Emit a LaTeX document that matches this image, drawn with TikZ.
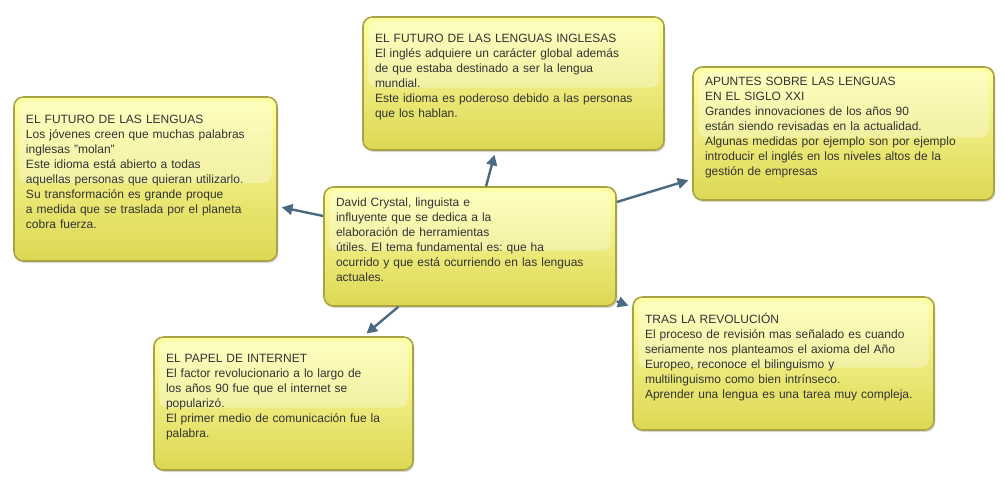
\documentclass[tikz,border=0pt]{standalone}
\usepackage{fontspec}
\setmainfont{Liberation Sans}
\usepackage{xcolor}
\usepackage{tikz}
\usetikzlibrary{arrows.meta,shadows}
\frenchspacing
\definecolor{mapBorder}{HTML}{A8A443}
\definecolor{mapTop}{HTML}{FFFFA6}
\definecolor{mapMid}{HTML}{F6F25E}
\definecolor{mapBottom}{HTML}{DCD854}
\definecolor{mapInk}{HTML}{333333}
\definecolor{mapArrow}{HTML}{4B6A80}
\tikzset{
  idea/.style={
    draw=mapBorder,
    line width=1.2pt,
    rounded corners=7pt,
    top color=mapTop,
    middle color=mapMid,
    bottom color=mapBottom,
    drop shadow={shadow xshift=1pt, shadow yshift=-1.5pt, opacity=0.25, fill=black!60},
    path picture={
      \fill[white, opacity=0.3, rounded corners=6pt]
        ([xshift=4pt, yshift=-3.5pt]path picture bounding box.north west)
        rectangle ([xshift=-4pt, yshift=-3pt]path picture bounding box.east);
    },
    align=left,
    text=mapInk,
    inner xsep=9pt,
    font=\fontsize{9pt}{11.25pt}\selectfont,
    execute at end node={\rule[-11pt]{0pt}{0pt}}
  },
  link/.style={-{Triangle[length=8pt, width=8pt]}, line width=1.8pt, draw=mapArrow, shorten >=3pt}
}

\begin{document}
\begin{tikzpicture}[x=0.75pt, y=-0.75pt]
  \useasboundingbox (0,0) rectangle (1004,482);

  % nodos
  \node[idea, minimum width=219pt, minimum height=89.25pt, text width=201pt] (crystal) at (470,246.5)
    {David Crystal, linguista e\\influyente que se dedica a la\\elaboración de herramientas\\útiles. El tema fundamental es: que ha\\ocurrido y que está ocurriendo en las lenguas\\actuales.};
  \node[idea, minimum width=197.25pt, minimum height=123pt, text width=179.25pt] (futuro) at (145.5,179)
    {EL FUTURO DE LAS LENGUAS\\Los jóvenes creen que muchas palabras\\inglesas "molan"\\Este idioma está abierto a todas\\aquellas personas que quieran utilizarlo.\\Su transformación es grande proque\\a medida que se traslada por el planeta\\cobra fuerza.};
  \node[idea, minimum width=225.75pt, minimum height=99.75pt, text width=207.75pt] (inglesas) at (513.5,83.5)
    {EL FUTURO DE LAS LENGUAS INGLESAS\\El inglés adquiere un carácter global además\\de que estaba destinado a ser la lengua\\mundial.\\Este idioma es poderoso debido a las personas\\que los hablan.};
  \node[idea, minimum width=225.75pt, minimum height=99.75pt, text width=207.75pt] (apuntes) at (843.5,133.5)
    {APUNTES SOBRE LAS LENGUAS\\EN EL SIGLO XXI\\Grandes innovaciones de los años 90\\están siendo revisadas en la actualidad.\\Algunas medidas por ejemplo son por ejemplo\\introducir el inglés en los niveles altos de la\\gestión de empresas};
  \node[idea, minimum width=194.25pt, minimum height=99.75pt, text width=176.25pt] (internet) at (283.5,403.5)
    {EL PAPEL DE INTERNET\\El factor revolucionario a lo largo de\\los años 90 fue que el internet se\\popularizó.\\El primer medio de comunicación fue la\\palabra.};
  \node[idea, minimum width=225.75pt, minimum height=99.75pt, text width=207.75pt] (revolucion) at (783.5,363.5)
    {TRAS LA REVOLUCIÓN\\El proceso de revisión mas señalado es cuando\\seriamente nos planteamos el axioma del Año\\Europeo, reconoce el bilinguismo y\\multilinguismo como bien intrínseco.\\Aprender una lengua es una tarea muy compleja.};

  % flechas
  \draw[link] (crystal) -- (futuro);
  \draw[link] (crystal) -- (inglesas);
  \draw[link] (crystal) -- (apuntes);
  \draw[link] (crystal) -- (internet);
  \draw[link] (crystal) -- (revolucion);
\end{tikzpicture}
\end{document}
